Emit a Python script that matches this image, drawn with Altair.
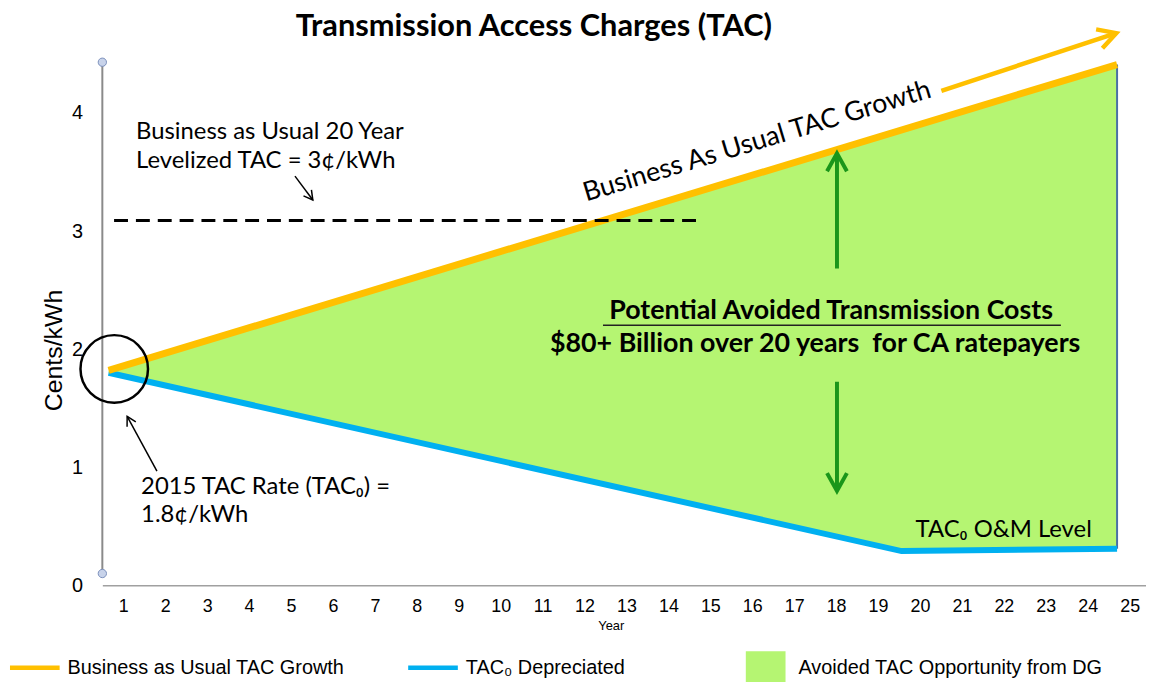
import altair as alt
import pandas as pd
import numpy as np

# ---------------- data ----------------
years_bau = [0.65, 24.7]
tac_bau = [1.82, 4.41]
years_dep = [0.65, 19.56, 24.7]
tac_dep = [1.80, 0.29, 0.31]
levelized_tac = 3.09
levelized_span = [0.78, 14.76]
x_ticks = list(range(1, 26))
y_ticks = [0, 1, 2, 3, 4]

line_names = ["Business as Usual TAC Growth", "TAC\u2080 Depreciated"]
line_colors = ["#FFC000", "#00B0F0"]
area_names = ["Avoided  TAC Opportunity from DG"]
area_colors = ["#B5F572"]

# annotation anchors (data units)
note_x = [1.305, 1.305, 1.424, 1.424, 19.895]
note_y = [3.776, 3.532, 0.774, 0.538, 0.412]
note_text = ["Business as Usual 20 Year", "Levelized TAC = 3\u00a2/kWh",
             "2015 TAC Rate (TAC\u2080) =", "1.8\u00a2/kWh", "TAC\u2080 O&M Level"]
bold_x = [17.88, 17.50]
bold_y = [2.254, 1.976]
bold_text = ["Potential Avoided Transmission Costs",
             "$80+ Billion over 20 years \u00a0for CA ratepayers"]
underline = dict(x=[12.44], x2=[23.36], y=[2.203])
growth_label = dict(x=[12.04], y=[3.25], text=["Business As Usual TAC Growth"], angle=[343.2])
circle_pt = dict(x=[0.784], y=[1.833])
yaxis_line = dict(x=[0.5], y=[0.10], y2=[4.43])

black_arrows = dict(x=[5.094, 1.802], y=[3.465, 0.967], x2=[5.52, 1.092], y2=[3.263, 1.430], angle=[143.1, 331.4])
green_arrows = dict(x=[18.02, 18.02], y=[2.683, 1.724], x2=[18.02, 18.02], y2=[3.658, 0.799], angle=[0, 180])
yellow_arrow = dict(x=[20.51], y=[4.188], x2=[24.68], y2=[4.676], angle=[71.5])

# ---------------- scales / axes ----------------
FONT = "Lato"
AFONT = "Liberation Sans"
xs = alt.Scale(domain=[0.5, 25.39], nice=False, zero=False)
ys = alt.Scale(domain=[0, 4.6], nice=False, zero=False)
x_axis = alt.Axis(values=x_ticks, title="Year", ticks=False, grid=False,
                  domainColor="#a0a0a0", domainWidth=1.5,
                  labelFont=AFONT, labelFontSize=18, labelColor="black", labelPadding=12,
                  titleFont=AFONT, titleFontSize=13, titleFontWeight="normal", titleColor="black",
                  titleX=512, titleY=40, titleAlign="center", titleBaseline="middle")
y_axis = alt.Axis(values=y_ticks, title="Cents/kWh", ticks=False, grid=False, domain=False,
                  labelFont=AFONT, labelFontSize=20, labelColor="black", labelPadding=20,
                  titleFont=AFONT, titleFontSize=25, titleFontWeight="normal", titleColor="black",
                  titleX=-49, titleY=310, titleAngle=270, titleAlign="center", titleBaseline="middle")


def X(f="x"):
    return alt.X(f"{f}:Q", scale=xs, axis=x_axis)


def Y(f="y"):
    return alt.Y(f"{f}:Q", scale=ys, axis=y_axis)


# ---------------- layers ----------------
area_df = pd.DataFrame({"x": years_dep,
                        "y": np.interp(years_dep, years_bau, tac_bau),
                        "y2": tac_dep})
area = alt.Chart(area_df).mark_area(color=area_colors[0], opacity=1).encode(
    x=X(), y=Y(), y2=alt.Y2("y2:Q"))

edge = alt.Chart(pd.DataFrame({"x": [years_bau[-1]], "y": [tac_dep[-1]], "y2": [tac_bau[-1]]})
                 ).mark_rule(color="#4a6fa5", strokeWidth=2).encode(x=X(), y=Y(), y2=alt.Y2("y2:Q"))

blue = alt.Chart(pd.DataFrame({"x": years_dep, "y": tac_dep})).mark_line(
    color=line_colors[1], strokeWidth=6).encode(x=X(), y=Y())
yellow = alt.Chart(pd.DataFrame({"x": years_bau, "y": tac_bau})).mark_line(
    color=line_colors[0], strokeWidth=7).encode(x=X(), y=Y())

dashed = alt.Chart(pd.DataFrame({"x": [levelized_span[0]], "x2": [levelized_span[1]], "y": [levelized_tac]})
                   ).mark_rule(color="black", strokeWidth=3, strokeDash=[14, 8]).encode(
    x=X(), x2=alt.X2("x2:Q"), y=Y())

yline = alt.Chart(pd.DataFrame(yaxis_line)).mark_rule(color="#8a8a8a", strokeWidth=2).encode(
    x=X(), y=Y(), y2=alt.Y2("y2:Q"))
yends = alt.Chart(pd.DataFrame({"x": yaxis_line["x"] * 2, "y": [yaxis_line["y"][0], yaxis_line["y2"][0]]})
                  ).mark_point(shape="circle", filled=True, fill="#c8d3ea", stroke="#7b8fba",
                               strokeWidth=1, size=70, opacity=1).encode(x=X(), y=Y())

circle = alt.Chart(pd.DataFrame(circle_pt)).mark_point(
    shape="circle", filled=False, stroke="black", strokeWidth=2.5, size=4624, opacity=1
).encode(x=X(), y=Y())

CHEVRON = "M-1,1.8L0,0L1,1.8"


def arrow(d, color, width, head):
    df = pd.DataFrame(d)
    shaft = alt.Chart(df).mark_rule(color=color, strokeWidth=width).encode(
        x=X(), y=Y(), x2=alt.X2("x2:Q"), y2=alt.Y2("y2:Q"))
    tip = alt.Chart(df).mark_point(shape=CHEVRON, filled=False, stroke=color, strokeWidth=width,
                                   size=head, opacity=1, strokeJoin="miter").encode(
        x=X("x2"), y=Y("y2"), angle=alt.Angle("angle:Q", scale=None))
    return [shaft, tip]


notes = alt.Chart(pd.DataFrame({"x": note_x, "y": note_y, "text": note_text})).mark_text(
    font=FONT, fontSize=24, align="left", baseline="alphabetic", color="black").encode(
    x=X(), y=Y(), text="text:N")

growth = alt.Chart(pd.DataFrame(growth_label)).mark_text(
    font=FONT, fontSize=27, align="left", baseline="alphabetic", color="black").encode(
    x=X(), y=Y(), text="text:N", angle=alt.Angle("angle:Q", scale=None))

bold = alt.Chart(pd.DataFrame({"x": bold_x, "y": bold_y, "text": bold_text})).mark_text(
    font=FONT, fontSize=27, fontWeight="bold", align="center", baseline="alphabetic", color="black"
).encode(x=X(), y=Y(), text="text:N")

uline = alt.Chart(pd.DataFrame(underline)).mark_rule(color="#222222", strokeWidth=1.5).encode(
    x=X(), x2=alt.X2("x2:Q"), y=Y())

# legends (two real legends, fed by invisible point layers)
LINE_SYM = "M-1,-0.09H1V0.09H-1Z"
SQUARE_SYM = "M-0.8,-0.66H0.8V0.66H-0.8Z"
common = dict(orient="none", legendY=605, direction="horizontal", title=None,
              symbolSize=2500, symbolStrokeWidth=0, symbolOpacity=1,
              labelFont=AFONT, labelFontSize=20, labelColor="black", labelOffset=8,
              labelLimit=500, columnPadding=64, padding=0)
leg_lines = alt.Legend(legendX=-93, symbolType=LINE_SYM, **common)
leg_area = alt.Legend(legendX=643, symbolType=SQUARE_SYM, **common)

legend_lines = alt.Chart(pd.DataFrame({"series": line_names, "x": [1, 1], "y": [1, 1]})
                         ).mark_point(filled=True, opacity=0).encode(
    x=X(), y=Y(),
    color=alt.Color("series:N", scale=alt.Scale(domain=line_names, range=line_colors), legend=leg_lines))
legend_area = alt.Chart(pd.DataFrame({"region": area_names, "x": [1], "y": [1]})
                        ).mark_point(filled=True, opacity=0).encode(
    x=X(), y=Y(),
    fill=alt.Fill("region:N", scale=alt.Scale(domain=area_names, range=area_colors), legend=leg_area))

layers = [area, edge, blue, yellow, dashed, yline, yends, circle]
layers += arrow(black_arrows, "black", 1.5, 100)
layers += arrow(green_arrows, "#1a961a", 4, 400)
layers += arrow(yellow_arrow, "#FFC000", 4.5, 400)
layers += [notes, growth, bold, uline, legend_lines, legend_area]

chart = alt.layer(*layers).properties(
    width=1051, height=547,
    padding={"left": 95, "top": 32, "right": 0, "bottom": 100},
    autosize=alt.AutoSizeParams(type="none"),
    background="white",
    title=alt.TitleParams("Transmission Access Charges (TAC)", font=FONT, fontSize=31,
                          fontWeight="bold", color="black", anchor="middle", dx=-91,
                          dy=27, offset=4),
).configure_view(strokeWidth=0)

chart.save("out.html", embed_options={"renderer": "svg", "actions": False})
